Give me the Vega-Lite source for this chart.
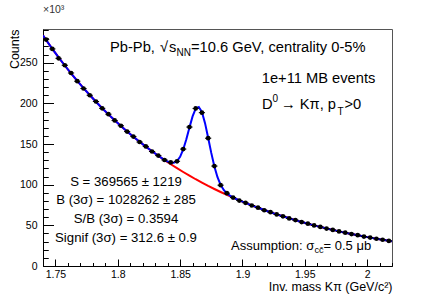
{
  "$schema": "https://vega.github.io/schema/vega-lite/v6.json",
  "width": 349,
  "height": 237,
  "autosize": {"type": "none"},
  "padding": {"left": 43, "top": 29, "right": 44, "bottom": 29},
  "background": "white",
  "data": {"values": [{}]},
  "config": {
    "view": {"stroke": "#555555", "strokeWidth": 1},
    "font": "Liberation Sans",
    "text": {"font": "Liberation Sans", "color": "black"}
  },
  "title": {
    "text": "×10³",
    "anchor": "start",
    "frame": "group",
    "fontSize": 10.5,
    "fontWeight": "normal",
    "font": "Liberation Sans",
    "color": "#333333",
    "offset": 2,
    "baseline": "alphabetic"
  },
  "datasets": {
    "hist": [
      {"m": 1.7425, "c": 278.5, "lo": 1.740, "hi": 1.745},
      {"m": 1.7475, "c": 267.0, "lo": 1.745, "hi": 1.750},
      {"m": 1.7525, "c": 255.4, "lo": 1.750, "hi": 1.755},
      {"m": 1.7575, "c": 246.9, "lo": 1.755, "hi": 1.760},
      {"m": 1.7625, "c": 237.4, "lo": 1.760, "hi": 1.765},
      {"m": 1.7675, "c": 227.3, "lo": 1.765, "hi": 1.770},
      {"m": 1.7725, "c": 218.3, "lo": 1.770, "hi": 1.775},
      {"m": 1.7775, "c": 210.0, "lo": 1.775, "hi": 1.780},
      {"m": 1.7825, "c": 202.3, "lo": 1.780, "hi": 1.785},
      {"m": 1.7875, "c": 193.9, "lo": 1.785, "hi": 1.790},
      {"m": 1.7925, "c": 186.7, "lo": 1.790, "hi": 1.795},
      {"m": 1.7975, "c": 179.0, "lo": 1.795, "hi": 1.800},
      {"m": 1.8025, "c": 172.5, "lo": 1.800, "hi": 1.805},
      {"m": 1.8075, "c": 165.3, "lo": 1.805, "hi": 1.810},
      {"m": 1.8125, "c": 159.2, "lo": 1.810, "hi": 1.815},
      {"m": 1.8175, "c": 152.5, "lo": 1.815, "hi": 1.820},
      {"m": 1.8225, "c": 147.1, "lo": 1.820, "hi": 1.825},
      {"m": 1.8275, "c": 140.8, "lo": 1.825, "hi": 1.830},
      {"m": 1.8325, "c": 135.8, "lo": 1.830, "hi": 1.835},
      {"m": 1.8375, "c": 130.4, "lo": 1.835, "hi": 1.840},
      {"m": 1.8425, "c": 127.4, "lo": 1.840, "hi": 1.845},
      {"m": 1.8475, "c": 128.8, "lo": 1.845, "hi": 1.850},
      {"m": 1.8525, "c": 143.8, "lo": 1.850, "hi": 1.855},
      {"m": 1.8575, "c": 170.9, "lo": 1.855, "hi": 1.860},
      {"m": 1.8625, "c": 193.8, "lo": 1.860, "hi": 1.865},
      {"m": 1.8675, "c": 188.6, "lo": 1.865, "hi": 1.870},
      {"m": 1.8725, "c": 157.2, "lo": 1.870, "hi": 1.875},
      {"m": 1.8775, "c": 122.9, "lo": 1.875, "hi": 1.880},
      {"m": 1.8825, "c": 99.4, "lo": 1.880, "hi": 1.885},
      {"m": 1.8875, "c": 89.6, "lo": 1.885, "hi": 1.890},
      {"m": 1.8925, "c": 84.1, "lo": 1.890, "hi": 1.895},
      {"m": 1.8975, "c": 80.5, "lo": 1.895, "hi": 1.900},
      {"m": 1.9025, "c": 77.7, "lo": 1.900, "hi": 1.905},
      {"m": 1.9075, "c": 74.4, "lo": 1.905, "hi": 1.910},
      {"m": 1.9125, "c": 71.7, "lo": 1.910, "hi": 1.915},
      {"m": 1.9175, "c": 68.6, "lo": 1.915, "hi": 1.920},
      {"m": 1.9225, "c": 66.2, "lo": 1.920, "hi": 1.925},
      {"m": 1.9275, "c": 63.4, "lo": 1.925, "hi": 1.930},
      {"m": 1.9325, "c": 61.1, "lo": 1.930, "hi": 1.935},
      {"m": 1.9375, "c": 58.5, "lo": 1.935, "hi": 1.940},
      {"m": 1.9425, "c": 56.5, "lo": 1.940, "hi": 1.945},
      {"m": 1.9475, "c": 54.0, "lo": 1.945, "hi": 1.950},
      {"m": 1.9525, "c": 52.1, "lo": 1.950, "hi": 1.955},
      {"m": 1.9575, "c": 49.9, "lo": 1.955, "hi": 1.960},
      {"m": 1.9625, "c": 48.1, "lo": 1.960, "hi": 1.965},
      {"m": 1.9675, "c": 46.0, "lo": 1.965, "hi": 1.970},
      {"m": 1.9725, "c": 44.4, "lo": 1.970, "hi": 1.975},
      {"m": 1.9775, "c": 42.5, "lo": 1.975, "hi": 1.980},
      {"m": 1.9825, "c": 41.0, "lo": 1.980, "hi": 1.985},
      {"m": 1.9875, "c": 39.3, "lo": 1.985, "hi": 1.990},
      {"m": 1.9925, "c": 37.9, "lo": 1.990, "hi": 1.995},
      {"m": 1.9975, "c": 36.2, "lo": 1.995, "hi": 2.000},
      {"m": 2.0025, "c": 35.0, "lo": 2.000, "hi": 2.005},
      {"m": 2.0075, "c": 33.5, "lo": 2.005, "hi": 2.010},
      {"m": 2.0125, "c": 32.3, "lo": 2.010, "hi": 2.015},
      {"m": 2.0175, "c": 30.9, "lo": 2.015, "hi": 2.020}
    ],
    "bkg": [
      {"m": 1.7400, "f": 283.6},
      {"m": 1.7425, "f": 278.0}, {"m": 1.7475, "f": 267.1}, {"m": 1.7525, "f": 256.7},
      {"m": 1.7575, "f": 246.6}, {"m": 1.7625, "f": 237.0}, {"m": 1.7675, "f": 227.7},
      {"m": 1.7725, "f": 218.8}, {"m": 1.7775, "f": 210.3}, {"m": 1.7825, "f": 202.0},
      {"m": 1.7875, "f": 194.1}, {"m": 1.7925, "f": 186.5}, {"m": 1.7975, "f": 179.2},
      {"m": 1.8025, "f": 172.2}, {"m": 1.8075, "f": 165.5}, {"m": 1.8125, "f": 159.0},
      {"m": 1.8175, "f": 152.8}, {"m": 1.8225, "f": 146.8}, {"m": 1.8275, "f": 141.1},
      {"m": 1.8325, "f": 135.6}, {"m": 1.8375, "f": 130.3}, {"m": 1.8425, "f": 125.2},
      {"m": 1.8475, "f": 120.3}, {"m": 1.8525, "f": 115.6}, {"m": 1.8575, "f": 111.1},
      {"m": 1.8625, "f": 106.7}, {"m": 1.8675, "f": 102.6}, {"m": 1.8725, "f": 98.5},
      {"m": 1.8775, "f": 94.7}, {"m": 1.8825, "f": 91.0}, {"m": 1.8875, "f": 87.4},
      {"m": 1.8925, "f": 84.0}, {"m": 1.8975, "f": 80.7}, {"m": 1.9025, "f": 77.6},
      {"m": 1.9075, "f": 74.5}, {"m": 1.9125, "f": 71.6}, {"m": 1.9175, "f": 68.8},
      {"m": 1.9225, "f": 66.1}, {"m": 1.9275, "f": 63.5}, {"m": 1.9325, "f": 61.1},
      {"m": 1.9375, "f": 58.7}, {"m": 1.9425, "f": 56.4}, {"m": 1.9475, "f": 54.2},
      {"m": 1.9525, "f": 52.0}, {"m": 1.9575, "f": 50.0}, {"m": 1.9625, "f": 48.1},
      {"m": 1.9675, "f": 46.2}, {"m": 1.9725, "f": 44.4}, {"m": 1.9775, "f": 42.6},
      {"m": 1.9825, "f": 41.0}, {"m": 1.9875, "f": 39.4}, {"m": 1.9925, "f": 37.8},
      {"m": 1.9975, "f": 36.4}, {"m": 2.0025, "f": 34.9}, {"m": 2.0075, "f": 33.6},
      {"m": 2.0125, "f": 32.3}, {"m": 2.0175, "f": 31.0}, {"m": 2.0200, "f": 30.4}
    ],
    "fit": [
      {"m": 1.7400, "f": 283.6},
      {"m": 1.7425, "f": 278.0}, {"m": 1.7475, "f": 267.1}, {"m": 1.7525, "f": 256.7},
      {"m": 1.7575, "f": 246.6}, {"m": 1.7625, "f": 237.0}, {"m": 1.7675, "f": 227.7},
      {"m": 1.7725, "f": 218.8}, {"m": 1.7775, "f": 210.3}, {"m": 1.7825, "f": 202.0},
      {"m": 1.7875, "f": 194.1}, {"m": 1.7925, "f": 186.5}, {"m": 1.7975, "f": 179.2},
      {"m": 1.8025, "f": 172.2}, {"m": 1.8075, "f": 165.5}, {"m": 1.8125, "f": 159.0},
      {"m": 1.8175, "f": 152.8}, {"m": 1.8225, "f": 146.8}, {"m": 1.8275, "f": 141.1},
      {"m": 1.8325, "f": 135.6}, {"m": 1.8350, "f": 133.0}, {"m": 1.8375, "f": 130.6},
      {"m": 1.8400, "f": 128.5}, {"m": 1.8425, "f": 127.1}, {"m": 1.8450, "f": 127.0},
      {"m": 1.8475, "f": 129.1}, {"m": 1.8500, "f": 134.3}, {"m": 1.8525, "f": 143.3},
      {"m": 1.8550, "f": 155.8}, {"m": 1.8575, "f": 170.4}, {"m": 1.8600, "f": 184.0},
      {"m": 1.8625, "f": 193.5}, {"m": 1.8650, "f": 195.6}, {"m": 1.8675, "f": 189.4},
      {"m": 1.8700, "f": 175.7}, {"m": 1.8725, "f": 157.8}, {"m": 1.8750, "f": 139.1},
      {"m": 1.8775, "f": 122.4}, {"m": 1.8800, "f": 109.2}, {"m": 1.8825, "f": 99.8},
      {"m": 1.8850, "f": 93.5}, {"m": 1.8875, "f": 89.3}, {"m": 1.8900, "f": 86.5},
      {"m": 1.8925, "f": 84.3}, {"m": 1.8950, "f": 82.4}, {"m": 1.8975, "f": 80.7},
      {"m": 1.9025, "f": 77.6},
      {"m": 1.9075, "f": 74.5}, {"m": 1.9125, "f": 71.6}, {"m": 1.9175, "f": 68.8},
      {"m": 1.9225, "f": 66.1}, {"m": 1.9275, "f": 63.5}, {"m": 1.9325, "f": 61.1},
      {"m": 1.9375, "f": 58.7}, {"m": 1.9425, "f": 56.4}, {"m": 1.9475, "f": 54.2},
      {"m": 1.9525, "f": 52.0}, {"m": 1.9575, "f": 50.0}, {"m": 1.9625, "f": 48.1},
      {"m": 1.9675, "f": 46.2}, {"m": 1.9725, "f": 44.4}, {"m": 1.9775, "f": 42.6},
      {"m": 1.9825, "f": 41.0}, {"m": 1.9875, "f": 39.4}, {"m": 1.9925, "f": 37.8},
      {"m": 1.9975, "f": 36.4}, {"m": 2.0025, "f": 34.9}, {"m": 2.0075, "f": 33.6},
      {"m": 2.0125, "f": 32.3}, {"m": 2.0175, "f": 31.0}, {"m": 2.0200, "f": 30.4}
    ]
  },
  "encoding": {
    "x": {
      "type": "quantitative",
      "scale": {"domain": [1.74, 2.02], "nice": false, "zero": false},
      "axis": {
        "values": [1.74, 1.75, 1.76, 1.77, 1.78, 1.79, 1.8, 1.81, 1.82, 1.83, 1.84, 1.85, 1.86, 1.87, 1.88, 1.89, 1.9, 1.91, 1.92, 1.93, 1.94, 1.95, 1.96, 1.97, 1.98, 1.99, 2.0, 2.01, 2.02],
        "labelExpr": "abs(round(datum.value*100)) % 5 === 0 ? '' + round(datum.value*100)/100 : ''",
        "tickSize": {"condition": {"test": "abs(round(datum.value*100)) % 5 === 0", "value": -7}, "value": -3.5},
        "labelPadding": 10,
        "labelOverlap": false,
        "labelFlush": false,
        "labelFont": "Liberation Sans",
        "labelFontSize": 10.5,
        "labelColor": "black",
        "domainColor": "black",
        "tickColor": "black",
        "grid": false,
        "title": "Inv. mass Kπ (GeV/c²)",
        "titleFont": "Liberation Sans",
        "titleFontSize": 12.5,
        "titleFontWeight": "normal",
        "titleColor": "black",
        "titleAlign": "right",
        "titleAnchor": "end",
        "titleBaseline": "alphabetic",
        "titleX": 349,
        "titleY": 24
      }
    },
    "y": {
      "type": "quantitative",
      "scale": {"domain": [0, 291.5], "nice": false, "zero": false},
      "axis": {
        "values": [0, 10, 20, 30, 40, 50, 60, 70, 80, 90, 100, 110, 120, 130, 140, 150, 160, 170, 180, 190, 200, 210, 220, 230, 240, 250, 260, 270, 280, 290],
        "labelExpr": "datum.value % 50 === 0 ? '' + datum.value : ''",
        "tickSize": {"condition": {"test": "datum.value % 50 === 0", "value": -10.5}, "value": -5.25},
        "labelPadding": 16.5,
        "labelOverlap": false,
        "labelFlush": false,
        "labelFont": "Liberation Sans",
        "labelFontSize": 10.5,
        "labelColor": "black",
        "domainColor": "black",
        "tickColor": "black",
        "grid": false,
        "title": "Counts",
        "titleFont": "Liberation Sans",
        "titleFontSize": 12.5,
        "titleFontWeight": "normal",
        "titleColor": "black",
        "titleAngle": 270,
        "titleAlign": "right",
        "titleBaseline": "alphabetic",
        "titleX": -24.7,
        "titleY": 0
      }
    }
  },
  "layer": [
    {
      "data": {"name": "bkg"},
      "mark": {"type": "line", "color": "#ff0000", "strokeWidth": 2, "clip": true},
      "encoding": {"x": {"field": "m", "type": "quantitative"}, "y": {"field": "f", "type": "quantitative"}}
    },
    {
      "data": {"name": "fit"},
      "mark": {"type": "line", "color": "#0000ff", "strokeWidth": 2, "clip": true},
      "encoding": {"x": {"field": "m", "type": "quantitative"}, "y": {"field": "f", "type": "quantitative"}}
    },
    {
      "data": {"name": "hist"},
      "mark": {"type": "rule", "color": "black", "strokeWidth": 1},
      "encoding": {"x": {"field": "lo", "type": "quantitative"}, "x2": {"field": "hi"}, "y": {"field": "c", "type": "quantitative"}}
    },
    {
      "data": {"name": "hist"},
      "mark": {"type": "point", "filled": true, "shape": "circle", "color": "black", "size": 22, "opacity": 1},
      "encoding": {"x": {"field": "m", "type": "quantitative"}, "y": {"field": "c", "type": "quantitative"}}
    },
    {"mark": {"type": "text", "align": "left", "baseline": "alphabetic", "fontSize": 14.7},
     "encoding": {"x": {"datum": 1.79375}, "y": {"datum": 263.2}, "text": {"value": "Pb-Pb,"}}},
    {"mark": {"type": "text", "align": "left", "baseline": "alphabetic", "fontSize": 14.7},
     "encoding": {"x": {"datum": 1.83387}, "y": {"datum": 263.2}, "text": {"value": "√"}}},
    {"mark": {"type": "text", "align": "left", "baseline": "alphabetic", "fontSize": 14.7},
     "encoding": {"x": {"datum": 1.84109}, "y": {"datum": 263.2}, "text": {"value": "s"}}},
    {"mark": {"type": "text", "align": "left", "baseline": "alphabetic", "fontSize": 10},
     "encoding": {"x": {"datum": 1.84711}, "y": {"datum": 258.2}, "text": {"value": "NN"}}},
    {"mark": {"type": "text", "align": "left", "baseline": "alphabetic", "fontSize": 14.7},
     "encoding": {"x": {"datum": 1.85874}, "y": {"datum": 263.2}, "text": {"value": "=10.6 GeV, centrality 0-5%"}}},
    {"mark": {"type": "text", "align": "left", "baseline": "alphabetic", "fontSize": 14.7},
     "encoding": {"x": {"datum": 1.91547}, "y": {"datum": 225.4}, "text": {"value": "1e+11 MB events"}}},
    {"mark": {"type": "text", "align": "left", "baseline": "alphabetic", "fontSize": 14.7},
     "encoding": {"x": {"datum": 1.91571}, "y": {"datum": 193.0}, "text": {"value": "D"}}},
    {"mark": {"type": "text", "align": "left", "baseline": "alphabetic", "fontSize": 10},
     "encoding": {"x": {"datum": 1.92413}, "y": {"datum": 201.6}, "text": {"value": "0"}}},
    {"mark": {"type": "text", "align": "left", "baseline": "alphabetic", "fontSize": 14.7},
     "encoding": {"x": {"datum": 1.93095}, "y": {"datum": 193.0}, "text": {"value": "→ Kπ, p"}}},
    {"mark": {"type": "text", "align": "left", "baseline": "alphabetic", "fontSize": 10},
     "encoding": {"x": {"datum": 1.97628}, "y": {"datum": 185.6}, "text": {"value": "T"}}},
    {"mark": {"type": "text", "align": "left", "baseline": "alphabetic", "fontSize": 14.7},
     "encoding": {"x": {"datum": 1.9819}, "y": {"datum": 193.0}, "text": {"value": ">0"}}},
    {"mark": {"type": "text", "align": "center", "baseline": "alphabetic", "fontSize": 13.2},
     "encoding": {"x": {"datum": 1.80659}, "y": {"datum": 98.5}, "text": {"value": "S = 369565 ± 1219"}}},
    {"mark": {"type": "text", "align": "center", "baseline": "alphabetic", "fontSize": 13.2},
     "encoding": {"x": {"datum": 1.80659}, "y": {"datum": 75.9}, "text": {"value": "B (3σ) = 1028262 ± 285"}}},
    {"mark": {"type": "text", "align": "center", "baseline": "alphabetic", "fontSize": 13.2},
     "encoding": {"x": {"datum": 1.80659}, "y": {"datum": 52.9}, "text": {"value": "S/B (3σ) = 0.3594"}}},
    {"mark": {"type": "text", "align": "center", "baseline": "alphabetic", "fontSize": 13.2},
     "encoding": {"x": {"datum": 1.80659}, "y": {"datum": 30.0}, "text": {"value": "Signif (3σ) = 312.6 ± 0.9"}}},
    {"mark": {"type": "text", "align": "left", "baseline": "alphabetic", "fontSize": 13},
     "encoding": {"x": {"datum": 1.89083}, "y": {"datum": 19.3}, "text": {"value": "Assumption: σ"}}},
    {"mark": {"type": "text", "align": "left", "baseline": "alphabetic", "fontSize": 9.2},
     "encoding": {"x": {"datum": 1.95783}, "y": {"datum": 15.6}, "text": {"value": "cc̄"}}},
    {"mark": {"type": "text", "align": "left", "baseline": "alphabetic", "fontSize": 13},
     "encoding": {"x": {"datum": 1.96505}, "y": {"datum": 19.3}, "text": {"value": " = 0.5 μb"}}}
  ]
}
